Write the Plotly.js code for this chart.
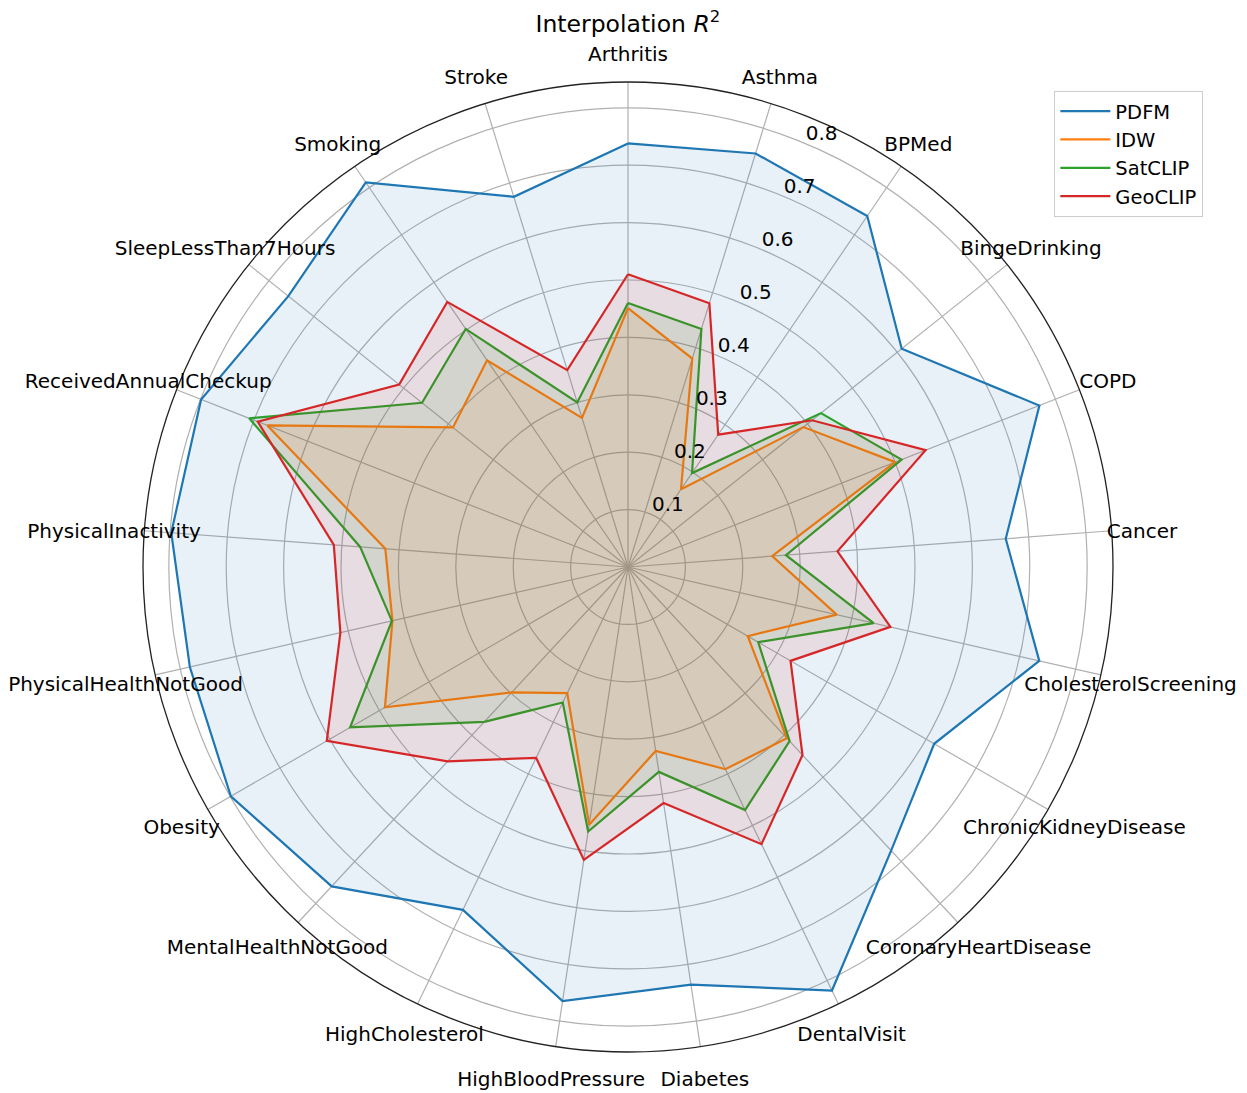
<!DOCTYPE html>
<html>
<head>
<meta charset="utf-8">
<script src="https://cdn.plot.ly/plotly-3.0.1.min.js"></script>
<style>html,body{margin:0;padding:0;background:#fff;}#chart{width:1247px;height:1093px;}</style>
</head>
<body>
<div id="chart"></div>
<script>
const categories = ["Arthritis","Asthma","BPMed","BingeDrinking","COPD","Cancer","CholesterolScreening","ChronicKidneyDisease","CoronaryHeartDisease","DentalVisit","Diabetes","HighBloodPressure","HighCholesterol","MentalHealthNotGood","Obesity","PhysicalHealthNotGood","PhysicalInactivity","ReceivedAnnualCheckup","SleepLessThan7Hours","Smoking","Stroke"];

const pdfm    = [0.738,0.754,0.740,0.610,0.770,0.660,0.735,0.616,0.674,0.819,0.736,0.765,0.663,0.759,0.799,0.783,0.798,0.799,0.757,0.811,0.675];
const idw     = [0.451,0.380,0.164,0.391,0.500,0.252,0.373,0.241,0.407,0.391,0.324,0.454,0.244,0.298,0.489,0.421,0.424,0.675,0.390,0.436,0.272];
const satclip = [0.460,0.434,0.198,0.430,0.512,0.276,0.439,0.262,0.414,0.470,0.361,0.466,0.262,0.368,0.559,0.422,0.468,0.709,0.459,0.502,0.300];
const geoclip = [0.510,0.481,0.279,0.410,0.557,0.366,0.469,0.327,0.447,0.536,0.416,0.516,0.369,0.462,0.606,0.514,0.514,0.693,0.510,0.559,0.359];

const seriesNames = ["PDFM","IDW","SatCLIP","GeoCLIP"];
const seriesValues = [pdfm, idw, satclip, geoclip];
const seriesColors = ["#1f77b4","#ff7f0e","#2ca02c","#d62728"];
const fillColors = ["rgba(31,119,180,0.1)","rgba(255,127,14,0.1)","rgba(44,160,44,0.1)","rgba(214,39,40,0.1)"];
const radialTicks = [0.1,0.2,0.3,0.4,0.5,0.6,0.7,0.8];
const radialTickText = ["0.1","0.2","0.3","0.4","0.5","0.6","0.7","0.8"];

const R_MAX = 0.845;          // radial range of the chart
const R_MAX_OUTER = 0.906;    // range of the label layer (same scale, larger circle)
const LABEL_R = 0.898;        // radius where category labels are centred
const RLABEL_THETA = 22.5;    // angle (deg, clockwise from top) of the radial tick labels

const font = "DejaVu Sans, sans-serif";
const closedTheta = categories.concat([categories[0]]);
const traces = [];
seriesNames.forEach((name, i) => {
  const r = seriesValues[i].concat([seriesValues[i][0]]);
  traces.push({
    type: "scatterpolar", subplot: "polar", r: r, theta: closedTheta, mode: "lines",
    name: name, legendgroup: name, showlegend: true,
    line: {color: seriesColors[i], width: 2.2}, hoverinfo: "skip"
  });
  traces.push({
    type: "scatterpolar", subplot: "polar", r: r, theta: closedTheta, mode: "none",
    fill: "toself", fillcolor: fillColors[i],
    name: name, legendgroup: name, showlegend: false, hoverinfo: "skip"
  });
});
// category labels, centred just outside the outer circle
traces.push({
  type: "scatterpolar", subplot: "polar2", mode: "text", theta: categories,
  r: categories.map(() => LABEL_R), text: categories,
  textposition: "middle center", cliponaxis: false,
  textfont: {family: font, size: 20, color: "#000"},
  showlegend: false, hoverinfo: "skip"
});
// radial tick labels along the 22.5 degree direction
traces.push({
  type: "scatterpolar", subplot: "polar3", mode: "text",
  theta: radialTicks.map(() => RLABEL_THETA), r: radialTicks, text: radialTickText,
  textposition: "top right", cliponaxis: false,
  textfont: {family: font, size: 20, color: "#000"},
  showlegend: false, hoverinfo: "skip"
});

const W = 1247, H = 1093, CX = 628, CY = 567, RAD = 485;
const RAD2 = RAD * R_MAX_OUTER / R_MAX;
function dom(cx, cy, rad) {
  return {x: [(cx - rad) / W, (cx + rad) / W], y: [(H - cy - rad) / H, (H - cy + rad) / H]};
}
const hiddenAngular = {showline: false, showgrid: false, showticklabels: false, ticks: ""};
const hiddenRadial = {showline: false, showgrid: false, showticklabels: false, ticks: ""};

const layout = {
  width: W, height: H,
  margin: {l: 0, r: 0, t: 0, b: 0},
  paper_bgcolor: "#ffffff",
  font: {family: font, size: 20, color: "#000"},
  title: {text: "Interpolation <i>R</i><sup>2</sup>", font: {family: font, size: 23.5, color: "#000"},
          x: 0.5035, xanchor: "center", y: 0.978, yanchor: "middle", yref: "container"},
  showlegend: true,
  legend: {x: 0.965, xanchor: "right", y: 0.9168, yanchor: "top",
           bordercolor: "#cccccc", borderwidth: 1, bgcolor: "rgba(255,255,255,0.8)",
           font: {family: font, size: 19.5, color: "#000"}, itemwidth: 50,
           traceorder: "grouped", tracegroupgap: 0},
  polar: {
    domain: dom(CX, CY, RAD),
    bgcolor: "#ffffff",
    angularaxis: {
      type: "category", rotation: 90, direction: "clockwise",
      categoryarray: categories,
      showline: true, linecolor: "#222", linewidth: 1.3,
      showgrid: true, gridcolor: "#b0b0b0", gridwidth: 1.2,
      ticks: "", showticklabels: false
    },
    radialaxis: {
      range: [0, R_MAX], angle: 67.5,
      tickvals: radialTicks, showticklabels: false,
      showline: false, ticks: "",
      showgrid: true, gridcolor: "#b0b0b0", gridwidth: 1.2
    }
  },
  polar2: {
    domain: dom(CX, CY + 4.5, RAD2),
    bgcolor: "rgba(0,0,0,0)",
    angularaxis: Object.assign({type: "category", rotation: 90, direction: "clockwise", categoryarray: categories}, hiddenAngular),
    radialaxis: Object.assign({range: [0, R_MAX_OUTER]}, hiddenRadial)
  },
  polar3: {
    domain: dom(CX + 2, CY + 2, RAD),
    bgcolor: "rgba(0,0,0,0)",
    angularaxis: Object.assign({type: "linear", thetaunit: "degrees", rotation: 90, direction: "clockwise"}, hiddenAngular),
    radialaxis: Object.assign({range: [0, R_MAX]}, hiddenRadial)
  }
};

Plotly.newPlot("chart", traces, layout, {staticPlot: true});
</script>
</body>
</html>
